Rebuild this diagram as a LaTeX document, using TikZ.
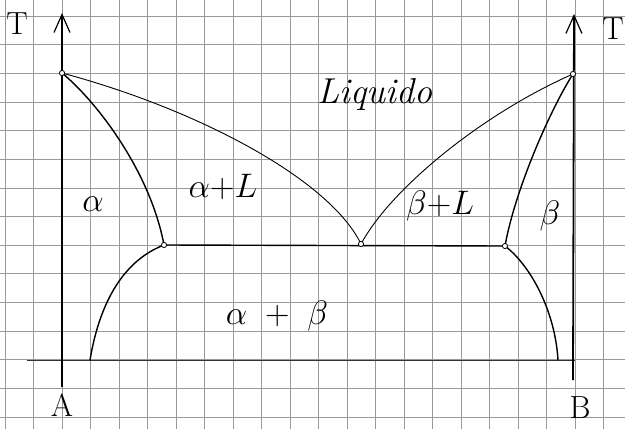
\RequirePackage{fix-cm}
\documentclass[tikz,border=0pt]{standalone}
\usetikzlibrary{arrows.meta}
\begin{document}
\begin{tikzpicture}[x=1pt,y=-1pt,
  gridline/.style={black!40, line width=0.6pt},
  baseline/.style={black!80, line width=1pt},
  axisline/.style={line width=1.8pt, -{Straight Barb[length=18pt,width=16pt,line width=1.2pt]}},
  phaseline/.style={line width=1.4pt, line cap=round},
  liqline/.style={line width=0.9pt, line cap=round},
  lbl/.style={font=\fontsize{34}{38}\selectfont, inner sep=0pt},
  biglbl/.style={font=\fontsize{36}{40}\selectfont, inner sep=0pt},
  axlbl/.style={font=\fontsize{32}{36}\selectfont, inner sep=0pt}]
\useasboundingbox (0,0) rectangle (625,429);
\fill[white] (0,0) rectangle (625,429);
% grid paper
\foreach \k in {0,...,21} \draw[gridline] ({5+28.5*\k},0) -- ({5+28.5*\k},429);
\foreach \k in {0,...,14} \draw[gridline] (0,{16+28.64*\k}) -- (625,{16+28.64*\k});
% key points
\coordinate (TA) at (62,73);
\coordinate (TB) at (573,74);
\coordinate (E) at (361,244);
\coordinate (Ea) at (164,245);
\coordinate (Eb) at (505,246);
\coordinate (Sa) at (90,360);
\coordinate (Sb) at (558,360);
\coordinate (A0) at (62,387);
\coordinate (Atop) at (62,13);
\coordinate (B0) at (573,380);
\coordinate (Btop) at (574,14);
\coordinate (L0) at (27,360);
\coordinate (L1) at (575,360);
% base line
\draw[baseline] (L0) -- (L1);
% axes
\draw[axisline] (A0) -- (Atop);
\draw[axisline] (B0) -- (Btop);
% liquidus
\draw[liqline] (TA) .. controls (200,110) and (330,180) .. (E);
\draw[liqline] (TB) .. controls (480,115) and (390,190) .. (E);
% solidus
\draw[phaseline] (TA) .. controls (95,100) and (150,170) .. (Ea);
\draw[phaseline] (TB) .. controls (550,110) and (515,190) .. (Eb);
% solvus
\draw[phaseline] (Ea) .. controls (125,260) and (100,300) .. (Sa);
\draw[phaseline] (Eb) .. controls (530,265) and (555,310) .. (Sb);
% eutectic line
\draw[phaseline] (Ea) -- (Eb);
% points
\foreach \p in {TA,TB,E,Ea,Eb} \draw[line width=0.8pt, fill=white] (\p) circle (2.6pt);
% labels
\node[axlbl] (lT1) at (17,24) {T};
\node[axlbl] (lT2) at (613,29) {T};
\node[axlbl] (lA) at (62,405) {A};
\node[axlbl] (lB) at (580,408) {B};
\node[biglbl, anchor=base] (liq) at (375,103) {\textit{Liquido}};
\node[lbl] (la) at (93,204) {$\alpha$};
\node[lbl] (laL) at (223,187) {$\alpha{+}L$};
\node[lbl] (lbL) at (440,206) {$\beta{+}L$};
\node[lbl] (lb) at (550,216) {$\beta$};
\node[lbl] (lab) at (277,316) {$\alpha\ +\ \beta$};
\end{tikzpicture}
\end{document}
